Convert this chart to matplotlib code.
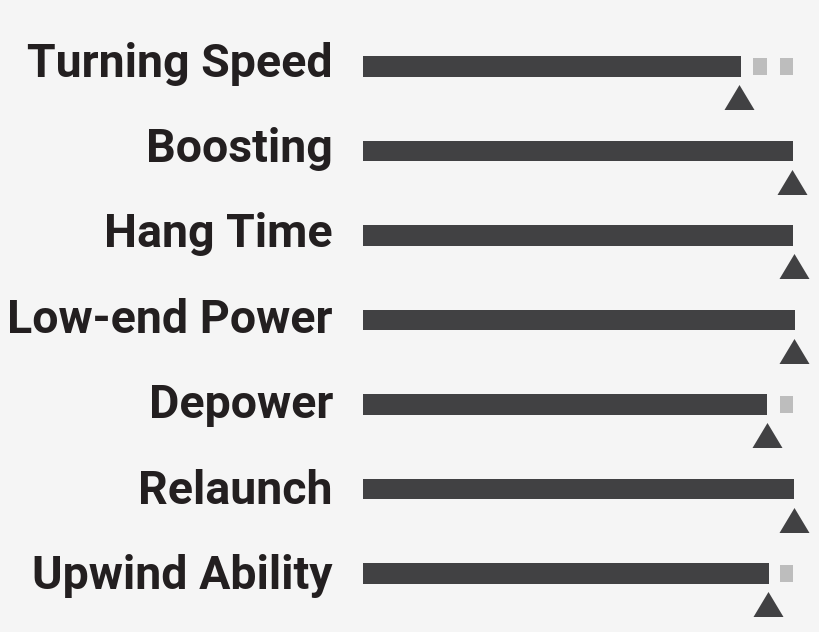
import matplotlib
matplotlib.use("Agg")
import matplotlib.pyplot as plt
import numpy as np

# ---- data ----
categories = ["Turning Speed", "Boosting", "Hang Time", "Low-end Power",
              "Depower", "Relaunch", "Upwind Ability"]
bar_values = [14.05, 16.0, 16.0, 16.06, 15.0, 16.03, 15.08]
marker_values = [13.96, 15.95, 16.01, 16.01, 15.02, 16.02, 15.04]
scale_max = 16

# ---- layout constants (pixels) ----
W, H = 820, 632
x0_px, unit_px = 363.5, 26.875
row0_px, row_px = 66.3, 84.5
txt0_px, txt_step_px = 76.7, 85.4

bg = "#f5f5f5"
bar_color = "#414143"
rest_color = "#bdbdbd"
text_color = "#231f20"

fig = plt.figure(figsize=(W / 100, H / 100), dpi=100, facecolor=bg)
ax = fig.add_axes([0, 0, 1, 1])
ax.set_facecolor(bg)
ax.set_xlim(-x0_px / unit_px, (W - x0_px) / unit_px)
ax.set_ylim((H - row0_px) / row_px, -row0_px / row_px)
ax.axis("off")

rows = np.arange(len(categories))
ax.barh(rows, bar_values, left=0, height=20.5 / row_px, color=bar_color,
        linewidth=0)

# remaining segments as light gray squares
for r, v in zip(rows, bar_values):
    for u in range(int(round(v)) + 1, scale_max + 1):
        ax.barh(r, 0.5, left=u - 0.5, height=17 / row_px, color=rest_color,
                linewidth=0)

# triangle markers below bar ends
tri = [(-1.2, -1.0), (1.2, -1.0), (0.0, 1.0), (-1.2, -1.0)]
ax.plot(marker_values, rows + 31.2 / row_px, ls="none", marker=tri,
        markersize=30 * 72 / 100, color=bar_color, markeredgewidth=0)

# labels
for i, lab in enumerate(categories):
    y_px = txt0_px + txt_step_px * i
    ax.text((333 - x0_px) / unit_px, (y_px - row0_px) / row_px, lab,
            ha="right", va="baseline", fontsize=33.5, fontweight="bold",
            family=["Roboto", "DejaVu Sans"],
            color=text_color)

fig.savefig("out.png", dpi=100, facecolor=bg)
